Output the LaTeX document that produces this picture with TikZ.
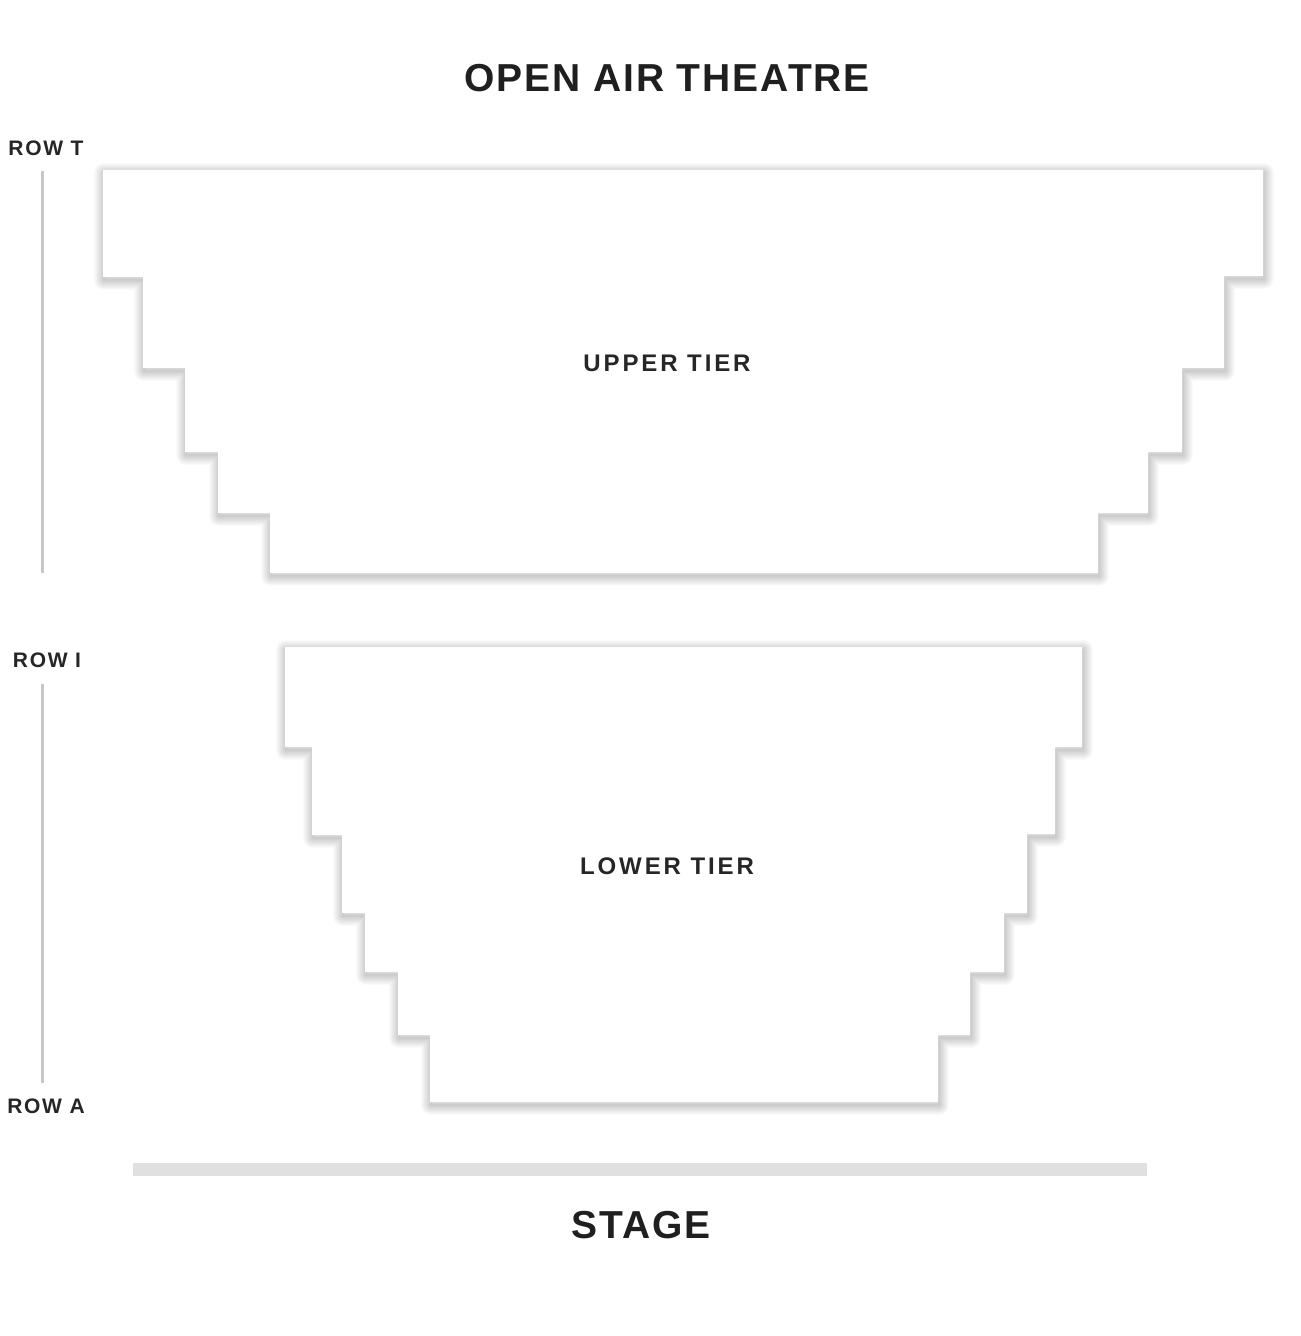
\documentclass[tikz,border=0pt]{standalone}
\usepackage{fontspec}
\setmainfont{Liberation Sans}
\tikzset{
  bigtitle/.style={font=\fontsize{19.5}{22}\selectfont\bfseries\addfontfeature{LetterSpace=5}, text=black!88},
  tierlabel/.style={font=\fontsize{12}{14}\selectfont\bfseries\addfontfeature{LetterSpace=12}, text=black!85},
  rowlabel/.style={font=\fontsize{10.5}{12}\selectfont\bfseries\addfontfeature{LetterSpace=8}, text=black!85},
  rowline/.style={draw=black!22, line width=1.5pt},
  shade/.style={draw=black, opacity=0.018, line join=round},
}
% white block with a soft shadow
\newcommand{\tierblock}[1]{%
  \foreach \w in {1pt,2pt,3pt,4pt,5pt,6pt,7pt,8pt,9pt,10pt}
    \draw[shade, line width=\w, shift={(1,3)}] #1;
  \fill[white] #1;}

\begin{document}
\begin{tikzpicture}[x=0.5pt,y=-0.5pt]
\useasboundingbox[fill=white] (0,0) rectangle (1300,1336);
    % Upper tier
    \tierblock{(103,170) -- (1263,170) -- (1263,276) -- (1224,276) -- (1224,368) -- (1182,368) -- (1182,452) -- (1148,452) -- (1148,513) -- (1098,513) -- (1098,573) -- (270,573) -- (270,513) -- (218,513) -- (218,452) -- (185,452) -- (185,368) -- (143,368) -- (143,277) -- (103,277) -- cycle}
    % Lower tier
    \tierblock{(285,647) -- (1082,647) -- (1082,747) -- (1055,747) -- (1055,834) -- (1027,834) -- (1027,913) -- (1004,913) -- (1004,972) -- (970,972) -- (970,1035) -- (938,1035) -- (938,1102) -- (430,1102) -- (430,1035) -- (398,1035) -- (398,972) -- (365,972) -- (365,913) -- (342,913) -- (342,835) -- (312,835) -- (312,747) -- (285,747) -- cycle}
    \node[tierlabel] (upper) at (667,363) {UPPER TIER};
    \node[tierlabel] (lower) at (667,866) {LOWER TIER};
    % Rows
    \node[rowlabel] (rowT) at (46,148) {ROW T};
    \node[rowlabel] (rowI) at (47,660) {ROW I};
    \node[rowlabel] (rowA) at (46,1106) {ROW A};
    \draw[rowline] (42,171) -- (42,573);
    \draw[rowline] (42,684) -- (42,1083);
    % Stage
    \fill[black!12] (133,1163) rectangle (1147,1176);
    \node[bigtitle] (stage) at (641,1225) {STAGE};
    \node[bigtitle] (title) at (667,78) {OPEN AIR THEATRE};
\end{tikzpicture}
\end{document}
